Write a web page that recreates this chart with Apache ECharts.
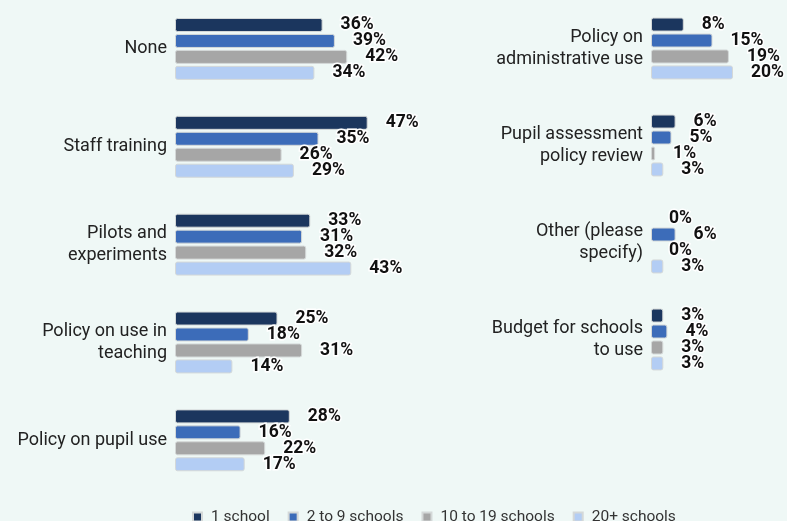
<!DOCTYPE html>
<html>
<head>
<meta charset="utf-8">
<script src="https://cdn.jsdelivr.net/npm/echarts@6/dist/echarts.min.js"></script>
<style>
  html, body { margin: 0; padding: 0; background: #eff8f6; }
  #chart { width: 787px; height: 521px; }
</style>
</head>
<body>
<div id="chart"></div>
<script>
// Policy categories, split over two panels
const leftCategories = ['None', 'Staff training', 'Pilots and\nexperiments', 'Policy on use in\nteaching', 'Policy on pupil use'];
const rightCategories = ['Policy on\nadministrative use', 'Pupil assessment\npolicy review', 'Other (please\nspecify)', 'Budget for schools\nto use'];

// Trust size groups
const groupNames = ['1 school', '2 to 9 schools', '10 to 19 schools', '20+ schools'];
const groupColors = ['#1b365e', '#3c6cb9', '#a6a6a6', '#b3cdf4'];

// Share of respondents (%), left panel
const leftOneSchool = [36, 47, 33, 25, 28];
const leftTwoToNine = [39, 35, 31, 18, 16];
const leftTenToNineteen = [42, 26, 32, 31, 22];
const leftTwentyPlus = [34, 29, 43, 14, 17];

// Share of respondents (%), right panel
const rightOneSchool = [8, 6, 0, 3];
const rightTwoToNine = [15, 5, 6, 4];
const rightTenToNineteen = [19, 1, 0, 3];
const rightTwentyPlus = [20, 3, 3, 3];

const leftValues = [leftOneSchool, leftTwoToNine, leftTenToNineteen, leftTwentyPlus];
const rightValues = [rightOneSchool, rightTwoToNine, rightTenToNineteen, rightTwentyPlus];

// Both panels share one horizontal scale (pixels per percentage point)
const pxPerPoint = 4.1;
const leftWidth = 205;
const rightWidth = 136;

const chart = echarts.init(document.getElementById('chart'), null, { renderer: 'canvas' });

const catAxis = (gridIndex, data) => ({
  type: 'category',
  gridIndex,
  data,
  inverse: true,
  axisLine: { show: false },
  axisTick: { show: false },
  axisLabel: {
    fontFamily: 'Roboto',
    fontSize: 18,
    lineHeight: 22,
    color: '#222',
    margin: 8,
    align: 'right'
  }
});

const valAxis = (gridIndex, width) => ({
  type: 'value',
  gridIndex,
  min: 0,
  max: width / pxPerPoint,
  show: false
});

const makeSeries = (values, axisIndex) => values.map((vals, i) => ({
  name: groupNames[i],
  type: 'bar',
  xAxisIndex: axisIndex,
  yAxisIndex: axisIndex,
  // zero-length bars get no outline
  data: vals.map(v => (v === 0 ? { value: v, itemStyle: { borderWidth: 0 } } : v)),
  barWidth: 14,
  barGap: '14%',
  itemStyle: {
    color: groupColors[i],
    borderColor: '#d4d8d8',
    borderWidth: 1,
    borderRadius: 2
  },
  label: {
    show: true,
    position: 'right',
    distance: 18,
    formatter: '{c}%',
    fontFamily: 'Roboto',
    fontWeight: 'bold',
    fontSize: 17.5,
    color: '#111',
    textBorderColor: '#fff',
    textBorderWidth: 3
  },
  animation: false
}));

chart.setOption({
  backgroundColor: '#eff8f6',
  animation: false,
  legend: {
    data: groupNames,
    left: 192,
    top: 509,
    padding: 0,
    icon: 'rect',
    itemWidth: 9,
    itemHeight: 9,
    itemGap: 18,
    textStyle: {
      fontFamily: 'Roboto',
      fontSize: 15.5,
      color: '#333',
      padding: [0, 0, 0, 4]
    }
  },
  grid: [
    { left: 175, top: -3.25, width: leftWidth, height: 492.5 },
    { left: 651, top: -7.2, width: rightWidth, height: 395.2 }
  ],
  xAxis: [valAxis(0, leftWidth), valAxis(1, rightWidth)],
  yAxis: [catAxis(0, leftCategories), catAxis(1, rightCategories)],
  series: [...makeSeries(leftValues, 0), ...makeSeries(rightValues, 1)]
});
</script>
</body>
</html>
